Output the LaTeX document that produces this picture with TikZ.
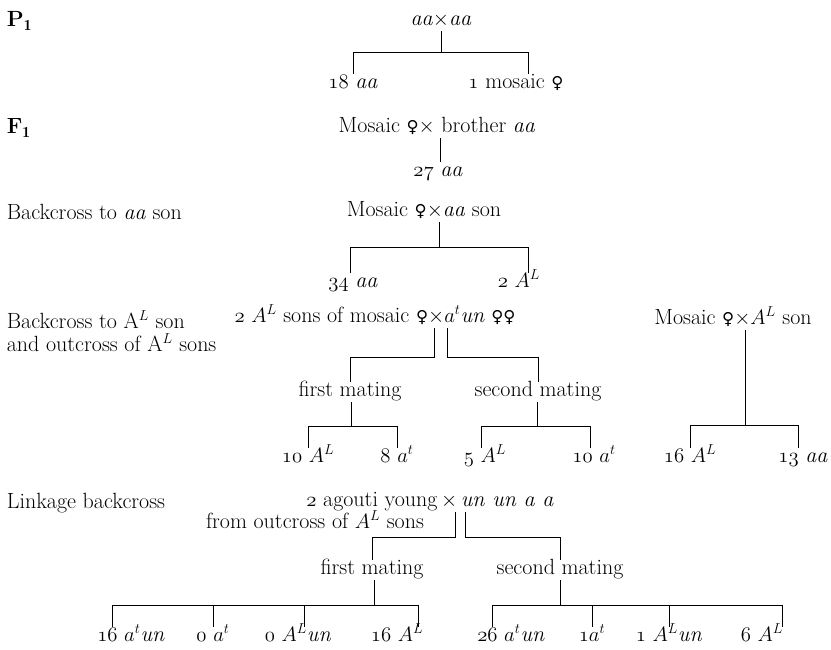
\documentclass[tikz,border=0pt]{standalone}
\usepackage{fontspec}
\usepackage{graphicx}
\newfontfamily\symfont{DejaVu Sans}
\newcommand{\fem}{\scalebox{0.75}{\symfont ♀}}
\newcommand{\osf}[1]{\ensuremath{\mathnormal{#1}}}
\newcommand{\tm}{\ensuremath{\times}}

\begin{document}
\begin{tikzpicture}[x=1pt,y=-1pt,line width=0.7pt]
\tikzstyle{txt}=[inner sep=0.5pt, font=\fontsize{22}{23}\selectfont, text height=14pt, text depth=5pt]
\tikzstyle{head}=[inner sep=0.5pt, font=\fontsize{22}{23}\selectfont, anchor=west, align=left]
\tikzstyle{fork}=[to path={-| (\tikztotarget)}]

\useasboundingbox (0,0) rectangle (831,650);

% generation headings
\node[head] (hP) at (6,21) {\textbf{P$_{\mathbf{1}}$}};
\node[head] (hF) at (6,128) {\textbf{F$_{\mathbf{1}}$}};
\node[head] (hB) at (6,212) {Backcross to \textit{aa} son};
\node[head] (hO) at (6,331) {Backcross to A$^L$ son\\and outcross of A$^L$ sons};
\node[head] (hL) at (6,503) {Linkage backcross};

% P1
\node[txt] (X1) at (441,21) {\textit{aa}\tm\textit{aa}};
\node[txt] (c11) at (353,84) {\osf{18} \textit{aa}};
\node[txt] (c12) at (516,84) {\osf{1} mosaic \fem};
\coordinate (j1) at (441,52);
\draw (j1 |- X1.south) -- (j1);
\path (j1) edge[fork] (c11.north)
           edge[fork] ([xshift=12pt]c12.north);

% F1
\node[txt] (X2) at (437,128) {Mosaic \fem\tm\ brother \textit{aa}};
\node[txt] (c21) at (438,172) {\osf{27} \textit{aa}};
\coordinate (j2) at (440,150);
\draw (j2 |- X2.south) -- (j2 |- c21.north);

% backcross to aa son
\node[txt] (X3) at (424,212) {Mosaic \fem\tm\textit{aa} son};
\node[txt] (c31) at (353,283) {\osf{34} \textit{aa}};
\node[txt] (c32) at (519,283) {\osf{2} $A^L$};
\coordinate (j3) at (439,247);
\draw (j3 |- X3.south) -- (j3);
\path (j3) edge[fork] ([xshift=-3pt]c31.north)
           edge[fork] ([xshift=9pt]c32.north);

% backcross to A^L son, outcross
\node[txt] (X4) at (375,318) {\osf{2} $A^L$ sons of mosaic \fem\tm$a^t$\textit{un} \fem\fem};
\node[txt] (m41) at (350,392) {first mating};
\node[txt] (m42) at (538,392) {second mating};
\coordinate (d4l) at (434,357);
\coordinate (d4r) at (447,357);
\draw (d4l |- X4.south) -- (d4l) -| (m41.north);
\draw (d4r |- X4.south) -- (d4r) -| (m42.north);

\node[txt] (c411) at (308,458) {\osf{10} $A^L$};
\node[txt] (c412) at (397,458) {\osf{8} $a^t$};
\coordinate (j41) at (351,426);
\draw (j41 |- m41.south) -- (j41);
\path (j41) edge[fork] (c411.north)
            edge[fork] (c412.north);

\node[txt] (c421) at (485,458) {\osf{5} $A^L$};
\node[txt] (c422) at (594,458) {\osf{10} $a^t$};
\coordinate (j42) at (537,426);
\draw (j42 |- m42.south) -- (j42);
\path (j42) edge[fork] ([xshift=-4pt]c421.north)
            edge[fork] ([xshift=-4pt]c422.north);

\node[txt] (Y4) at (733,320) {Mosaic \fem\tm$A^L$ son};
\node[txt] (c431) at (690,458) {\osf{16} $A^L$};
\node[txt] (c432) at (803,458) {\osf{13} \textit{aa}};
\coordinate (j43) at (745,425);
\draw (j43 |- Y4.south) -- (j43);
\path (j43) edge[fork] (c431.north)
            edge[fork] ([xshift=-5pt]c432.north);

% linkage backcross
\node[txt] (X5) at (430,502) {\osf{2} agouti young\,\tm\,\textit{un un a a}};
\node[txt] (X5b) at (315,524) {from outcross of $A^L$ sons};
\node[txt] (m51) at (372,570) {first mating};
\node[txt] (m52) at (560,570) {second mating};
\coordinate (d5l) at (455,537);
\coordinate (d5r) at (465,537);
\draw (d5l |- X5.south) -- (d5l) -| (m51.north);
\draw (d5r |- X5.south) -- (d5r) -| (m52.north);

\node[txt] (c511) at (131,637) {\osf{16} $a^t$\textit{un}};
\node[txt] (c512) at (213,637) {\osf{0} $a^t$};
\node[txt] (c513) at (298,637) {\osf{0} $A^L$\textit{un}};
\node[txt] (c514) at (397,637) {\osf{16} $A^L$};
\coordinate (j51) at (374,605);
\draw (j51 |- m51.south) -- (j51);
\path (j51) edge[fork] ([xshift=-19pt]c511.north)
            edge[fork] (c512.north)
            edge[fork] ([xshift=6pt]c513.north)
            edge[fork] ([xshift=21pt]c514.north);

\node[txt] (c521) at (511,637) {\osf{26} $a^t$\textit{un}};
\node[txt] (c522) at (592,637) {\osf{1}$a^t$};
\node[txt] (c523) at (669,637) {\osf{1} $A^L$\textit{un}};
\node[txt] (c524) at (762,637) {\osf{6} $A^L$};
\coordinate (j52) at (560,605);
\draw (j52 |- m52.south) -- (j52);
\path (j52) edge[fork] ([xshift=-19pt]c521.north)
            edge[fork] (c522.north)
            edge[fork] (c523.north)
            edge[fork] ([xshift=20pt]c524.north);
\end{tikzpicture}
\end{document}
